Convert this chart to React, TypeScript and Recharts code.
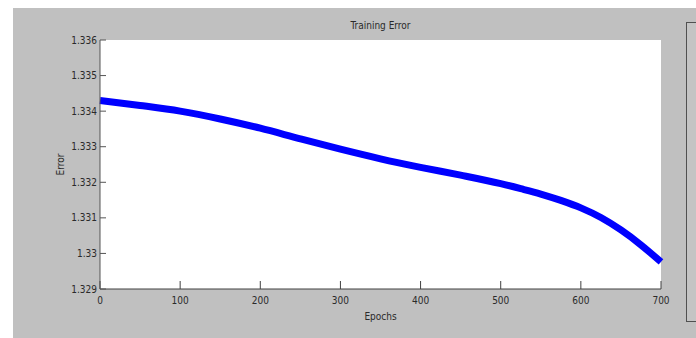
import { LineChart, Line, XAxis, YAxis, CartesianGrid } from "recharts";

const epochs = [0, 50, 100, 150, 200, 250, 300, 350, 400, 450, 500, 525, 550, 575, 600, 625, 650, 675, 700];
const errors = [
  1.3343, 1.33416, 1.334, 1.33378, 1.33352, 1.33322, 1.33293, 1.33266, 1.33242, 1.3322,
  1.33196, 1.33182, 1.33167, 1.33149, 1.33128, 1.33101, 1.33066, 1.33024, 1.32976,
];
const xTicks = [0, 100, 200, 300, 400, 500, 600, 700];
const yTicks = [1.329, 1.33, 1.331, 1.332, 1.333, 1.334, 1.335, 1.336];

const data = epochs.map((e, i) => ({ epoch: e, error: errors[i] }));

const font = "'Liberation Sans Narrow', 'Arial Narrow', 'DejaVu Sans Condensed', 'DejaVu Sans', sans-serif";
const textStyle = { fontSize: 10, fill: "#2a2a2a", fontFamily: font, fontStretch: "condensed" };

export default function App() {
  return (
    <div
      style={{
        position: "absolute",
        left: 13,
        top: 8,
        width: 683,
        height: 330,
        background: "#c0c0c0",
        overflow: "hidden",
      }}
    >
      <div
        style={{
          position: "absolute",
          left: 0,
          width: 648,
          top: 12,
          textAlign: "center",
          paddingLeft: 87,
          boxSizing: "border-box",
          fontFamily: font,
          fontStretch: "condensed",
          fontSize: 10,
          color: "#2a2a2a",
        }}
      >
        Training Error
      </div>
      <LineChart
        width={683}
        height={330}
        data={data}
        margin={{ top: 32, right: 35, left: 0, bottom: 0 }}
      >
        <CartesianGrid horizontal={false} vertical={false} fill="#ffffff" stroke="none" />
        <XAxis
          dataKey="epoch"
          type="number"
          domain={[0, 700]}
          ticks={xTicks}
          height={49}
          tickSize={-8}
          tickMargin={16}
          tick={textStyle}
          stroke="#404040"
          interval={0}
          label={{ value: "Epochs", position: "insideTop", offset: 24, style: textStyle }}
        />
        <YAxis
          type="number"
          domain={[1.329, 1.336]}
          ticks={yTicks}
          width={87}
          tickSize={-6}
          tickMargin={9}
          tick={textStyle}
          stroke="#555555"
          interval={0}
          tickFormatter={(v: number) => Number(v.toFixed(3)).toString()}
          label={{
            value: "Error",
            angle: -90,
            position: "insideLeft",
            offset: 47,
            style: { ...textStyle, textAnchor: "middle" },
          }}
        />
        <Line
          dataKey="error"
          type="monotone"
          stroke="#0000ff"
          strokeWidth={7}
          dot={false}
          isAnimationActive={false}
        />
      </LineChart>
      <div
        style={{
          position: "absolute",
          left: 673,
          top: 14,
          width: 30,
          height: 298,
          border: "1px solid #505050",
          background: "#c4c4c4",
        }}
      />
    </div>
  );
}
